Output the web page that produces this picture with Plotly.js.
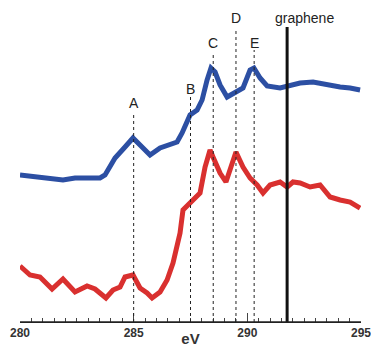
<!DOCTYPE html>
<html><head><meta charset="utf-8">
<script src="https://cdn.plot.ly/plotly-3.0.1.min.js"></script>
<style>html,body{margin:0;padding:0;background:#fff}</style>
</head><body><div id="chart" style="width:371px;height:347px"></div>
<script>
// Energy (eV) and intensity (arbitrary units, offset stacked)
const fibEv = [280.0,280.44,280.88,281.89,282.42,283.08,283.52,283.74,284.18,284.62,284.97,285.28,285.72,286.16,286.60,286.91,287.13,287.35,287.48,287.79,288.01,288.23,288.40,288.58,288.80,289.11,289.46,289.81,290.12,290.29,290.56,290.87,291.44,291.75,292.32,292.89,293.50,294.08,294.52,294.96];
const fibI  = [147,146,145,142,144,144,144,147,164,175,184,177,167,174,178,180,189,200,207,212,222,242,254,250,237,225,229,234,252,254,244,236,234,236,239,240,237,235,234,232];
const umtEv = [280.0,280.44,280.88,281.41,281.89,282.42,282.95,283.30,283.78,284.09,284.40,284.62,284.97,285.28,285.59,285.81,286.16,286.47,286.73,286.95,287.04,287.17,287.48,287.92,288.14,288.36,288.49,288.80,289.06,289.33,289.50,289.81,290.12,290.43,290.69,291.00,291.44,291.75,292.01,292.32,292.76,293.20,293.64,294.08,294.52,294.96];
const umtI  = [56,47,45,33,43,30,36,33,24,32,35,45,47,34,29,24,30,42,59,79,89,112,119,129,155,172,165,149,140,159,170,155,144,137,129,137,140,135,140,139,135,137,125,122,120,114];
const peakNames = ['A','B','C','D','E'];
const peakEv = [285.0, 287.5, 288.5, 289.5, 290.3];
const grapheneEv = 291.75;
const seriesNames = ['FIB','UMT'];

const lineTop = [207, 225, 267, 293, 272];
const labelY = [219, 233, 279, 304, 279];
const FONT = 'Liberation Sans, Arial, sans-serif';

const shapes = [];
const annotations = [];
peakEv.forEach((e,i)=>{
  shapes.push({type:'line', xref:'x', yref:'y', x0:e, x1:e, y0:0, y1:lineTop[i],
    line:{color:'#222', width:1, dash:'3px,3px'}});
  annotations.push({x:e, y:labelY[i], xref:'x', yref:'y', text:peakNames[i], showarrow:false,
    font:{family:FONT, size:14, color:'#222'}});
});
shapes.push({type:'line', xref:'x', yref:'y', x0:grapheneEv, x1:grapheneEv, y0:0, y1:295,
  line:{color:'#111', width:3}});
// baseline of the axis (backup for the axis line)
shapes.push({type:'line', xref:'paper', yref:'paper', x0:0, x1:1, y0:0, y1:0, layer:'above',
  line:{color:'#222', width:1.5}});
annotations.push({x:grapheneEv+0.78, y:304, xref:'x', yref:'y', text:'graphene', showarrow:false,
  font:{family:FONT, size:14, color:'#222'}});
annotations.push({x:279.9, y:164, xref:'x', yref:'y', xanchor:'left', text:seriesNames[0], showarrow:false,
  font:{family:FONT, size:19, color:'#222'}});
annotations.push({x:279.95, y:65, xref:'x', yref:'y', xanchor:'left', text:seriesNames[1], showarrow:false,
  font:{family:FONT, size:19, color:'#222'}});

const traces = [
  {x:fibEv, y:fibI, mode:'lines', name:seriesNames[0], line:{color:'#2c4fa3', width:5}},
  {x:umtEv, y:umtI, mode:'lines', name:seriesNames[1], line:{color:'#d9302f', width:5}}
];
const layout = {
  width:371, height:347,
  margin:{l:20, r:10, t:5, b:25},
  paper_bgcolor:'#fff', plot_bgcolor:'#fff',
  showlegend:false,
  xaxis:{range:[280,295], tick0:280, dtick:5,
    ticks:'inside', ticklen:9, tickwidth:1,
    minor:{dtick:0.5, ticks:'inside', ticklen:4},
    showline:true, linecolor:'#222', linewidth:1, showgrid:false, zeroline:false,
    ticklabeloverflow:'allow',
    tickfont:{family:FONT, size:12, color:'#333', weight:'bold'},
    title:{text:'eV', font:{family:FONT, size:15, color:'#333', weight:'bold'}, standoff:0}},
  yaxis:{range:[0,317], visible:false},
  shapes:shapes, annotations:annotations
};
Plotly.newPlot('chart', traces, layout, {displayModeBar:false, staticPlot:true});
</script></body></html>
